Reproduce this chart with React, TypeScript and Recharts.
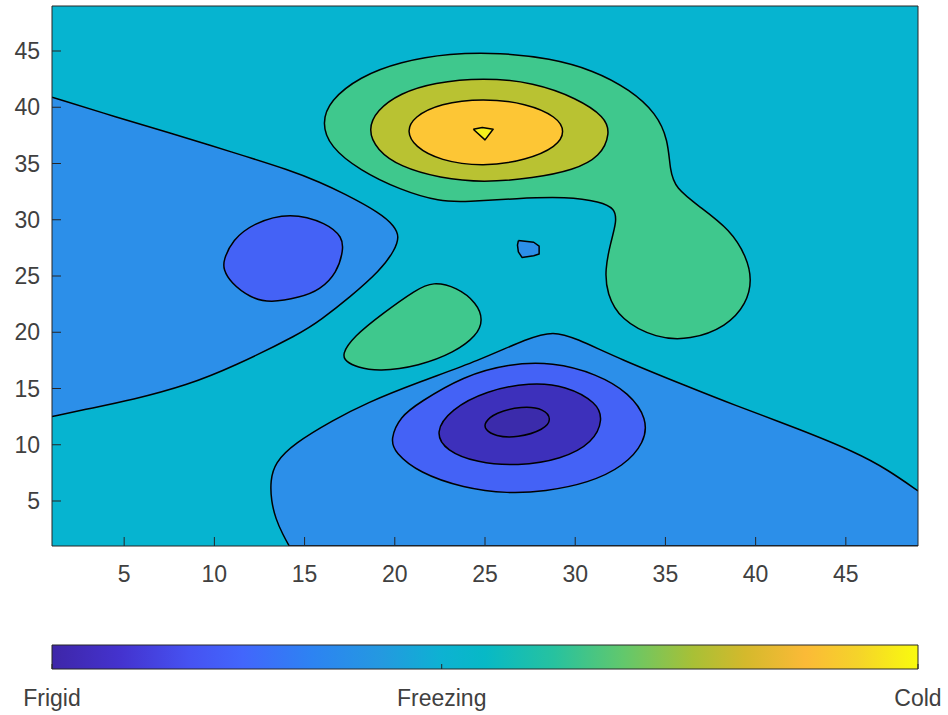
import { ScatterChart, Scatter, XAxis, YAxis, BarChart, Bar } from 'recharts'

type Pt = [number, number]

const xTicks = [5, 10, 15, 20, 25, 30, 35, 40, 45]
const yTicks = [5, 10, 15, 20, 25, 30, 35, 40, 45]

// contour outlines in data units
const background: Pt[] = [[1, 1], [49, 1], [49, 49], [1, 49], [1, 1]]

const leftWedge: Pt[] = [
  [1, 40.9], [4.6, 39.1], [7.4, 37.8], [11, 36], [14.2, 34.4], [15.9, 33.3], [17.1, 32.4],
  [19.2, 30.6], [20.0, 29.4], [20.25, 28.5], [20.0, 27.3], [19.2, 25.5], [17.5, 23.1],
  [15.9, 21.1], [14.8, 19.9], [11, 16.9], [8.5, 15.3], [5.5, 14], [2.7, 13.1], [1, 12.5],
]

const bottomShelf: Pt[] = [
  [49, 5.9], [47.3, 7.8], [45.6, 9.3], [42.4, 11.4], [38.7, 13.6], [36.2, 15.2], [32.5, 17.6],
  [30.0, 19.5], [28.8, 20.1], [27.4, 19.5], [24.7, 17.5], [21.2, 15.5], [18.4, 13.7], [16.6, 12.2],
  [14.4, 10.1], [13.35, 8.4], [13.1, 6.8], [13.15, 5.0], [13.4, 3.4], [13.8, 2.0],
  [14.15, 1], [14.15, 1], [14.15, 1], [49, 1],
]

const bottomRing: Pt[] = [
  [19.75, 10.5], [20.3, 12.5], [21.35, 13.75], [23.8, 16.1], [26.3, 17.2], [28.75, 17.35],
  [31.2, 16.3], [33.0, 14.6], [34.0, 12.3], [33.85, 10.2], [32.7, 8.1], [30.75, 6.6],
  [28.3, 5.85], [26.3, 5.65], [23.8, 6.15], [21.35, 7.5], [20.0, 9.3],
]

const innerRing: Pt[] = [
  [22.2, 11.1], [23.1, 13.15], [25.05, 14.8], [27.5, 15.55], [29.5, 15.25], [31.2, 13.75],
  [31.55, 12.25], [31.0, 10.2], [29.25, 8.7], [26.8, 8.1], [24.55, 8.4], [22.85, 9.45],
]

const coldCore: Pt[] = [
  [24.95, 11.95], [25.55, 12.85], [27.05, 13.45], [28.3, 13.2], [28.7, 12.25],
  [28.3, 11.35], [26.8, 10.6], [25.55, 10.75], [25.0, 11.35],
]

const leftOval: Pt[] = [
  [10.5, 26.4], [11.0, 28.2], [12.15, 29.7], [14.2, 30.7], [16.25, 29.7], [17.1, 28.45],
  [17.15, 27.3], [16.8, 25.3], [15.85, 23.75], [14.75, 23.1], [13.1, 22.6], [12.0, 23.05],
  [10.9, 24.4], [10.5, 25.6],
]

const midBlob: Pt[] = [
  [17.05, 18.0], [17.7, 19.6], [19.35, 21.7], [21.2, 23.8], [22.1, 24.5], [23.45, 24.0],
  [24.55, 22.6], [24.9, 21.1], [24.55, 19.7], [23.3, 18.2], [21.35, 17.0], [19.1, 16.5],
  [17.9, 16.9], [17.3, 17.4],
]

const topBlob: Pt[] = [
  [15.95, 38.6], [16.4, 40.6], [18.05, 42.7], [20.3, 44.05], [23.05, 44.8], [25.85, 44.85],
  [28.6, 44.35], [31.0, 43.3], [33.05, 41.55], [34.5, 39.45], [35.15, 37.1], [35.25, 34.4],
  [35.55, 32.8], [36.9, 31.15], [38.6, 29.1], [39.5, 26.7], [39.8, 24.65], [39.5, 22.55],
  [38.4, 20.5], [36.35, 19.3], [34.5, 19.45], [32.5, 21.1], [31.75, 23.45], [31.65, 25.55],
  [31.95, 27.9], [32.3, 29.85], [32.2, 31.0], [31.4, 31.6], [29.55, 32.05], [26.75, 31.9],
  [24.0, 31.6], [22.5, 31.6], [20.3, 32.65], [18.05, 34.4], [16.4, 36.5],
]

const olive: Pt[] = [
  [18.5, 38.0], [19.0, 39.75], [20.3, 41.25], [22.15, 42.2], [24.9, 42.65], [27.7, 42.2],
  [30.1, 40.8], [31.65, 39.15], [31.95, 37.7], [31.4, 35.6], [29.9, 34.4], [27.7, 33.7],
  [24.9, 33.3], [22.5, 33.7], [20.3, 34.7], [19.0, 36.2],
]

const warm: Pt[] = [
  [20.65, 37.85], [21.05, 39.15], [22.5, 40.35], [24.9, 40.8], [27.3, 40.35], [29.0, 39.15],
  [29.45, 37.85], [29.0, 36.5], [27.3, 35.3], [24.9, 34.7], [22.5, 35.25], [21.1, 36.5],
]

const peak: Pt[] = [[24.35, 38.05], [24.85, 38.2], [25.45, 38.05], [25.0, 37.1], [24.35, 38.05]]

const dimple: Pt[] = [
  [26.85, 28.15], [27.7, 28.0], [28.0, 27.65], [28.0, 26.95], [27.7, 26.8], [27.05, 26.65],
  [26.85, 27.15], [26.8, 27.75], [26.85, 28.15],
]

const cbTicks = [0, 0.45, 1]
const cbLabels = ['Frigid', 'Freezing', 'Cold']
const cbData = [{ name: 'scale', value: 1 }]

const parula = [
  ['0', '#3e26a8'], ['0.08', '#4433cf'], ['0.16', '#4653f2'], ['0.22', '#4266fc'],
  ['0.30', '#2d83f2'], ['0.38', '#2499e0'], ['0.45', '#0db2d2'], ['0.50', '#07b9c6'],
  ['0.58', '#27c29f'], ['0.66', '#62c86c'], ['0.74', '#a8c036'], ['0.80', '#d4b92c'],
  ['0.87', '#fbba37'], ['0.93', '#f5d32a'], ['1', '#f9fb0e'],
]

const layers = [
  { key: 'bg', pts: background, fill: '#06b4d0', curve: 'linear', edge: false },
  { key: 'wedge', pts: leftWedge, fill: '#2c8fe9', curve: 'basis', edge: true },
  { key: 'shelf', pts: bottomShelf, fill: '#2c8fe9', curve: 'basis', edge: true },
  { key: 'ring', pts: bottomRing, fill: '#4462f6', curve: 'basisClosed', edge: true },
  { key: 'inner', pts: innerRing, fill: '#3d30bb', curve: 'basisClosed', edge: true },
  { key: 'core', pts: coldCore, fill: '#3b2bab', curve: 'basisClosed', edge: true },
  { key: 'oval', pts: leftOval, fill: '#4462f6', curve: 'basisClosed', edge: true },
  { key: 'mid', pts: midBlob, fill: '#3fc88d', curve: 'basisClosed', edge: true },
  { key: 'top', pts: topBlob, fill: '#3fc88d', curve: 'basisClosed', edge: true },
  { key: 'olive', pts: olive, fill: '#b9c232', curve: 'basisClosed', edge: true },
  { key: 'warm', pts: warm, fill: '#fdc635', curve: 'basisClosed', edge: true },
  { key: 'peak', pts: peak, fill: '#f4f01c', curve: 'linear', edge: true },
  { key: 'dimple', pts: dimple, fill: '#2c8fe9', curve: 'linear', edge: true },
]

const font = '"Liberation Sans", Arial, sans-serif'
const tickStyle = { fill: '#404040', fontSize: 23, fontFamily: font }
const axisColor = '#262626'
const noLabel = () => <g />

export default function App() {
  return (
    <div style={{ position: 'absolute', left: 0, top: 0, width: 948, height: 715, background: '#fff', fontFamily: font }}>
      {/* filled contours */}
      <div style={{ position: 'absolute', left: 0, top: 0 }}>
        <ScatterChart width={948} height={600} margin={{ top: 6, right: 30, bottom: 54, left: 52 }}>
          <XAxis type="number" dataKey="x" domain={[1, 49]} allowDataOverflow hide />
          <YAxis type="number" dataKey="y" domain={[1, 49]} allowDataOverflow hide />
          {layers.map(l => (
            <Scatter
              key={l.key}
              data={l.pts.map(([x, y]) => ({ x, y }))}
              fill={l.fill}
              isAnimationActive={false}
              legendType="none"
              shape={() => <g />}
              lineType="joint"
              lineJointType={l.curve as any}
              line={{ fill: l.fill, stroke: l.edge ? '#000' : 'none', strokeWidth: 1.5, strokeLinejoin: 'round' } as any}
            />
          ))}
        </ScatterChart>
      </div>
      {/* box, inner ticks and tick labels drawn on top */}
      <div style={{ position: 'absolute', left: 0, top: 0, zIndex: 2, pointerEvents: 'none' }}>
        <ScatterChart width={948} height={600} margin={{ top: 5, right: 29, bottom: 0, left: 0 }}>
          <Scatter data={background.map(([x, y]) => ({ x, y }))} isAnimationActive={false}
            legendType="none" shape={() => <g />} />
          <XAxis type="number" dataKey="x" domain={[1, 49]} ticks={xTicks} interval={0}
            height={54} tickSize={-9} tickMargin={29} stroke={axisColor} tick={tickStyle} />
          <XAxis xAxisId="top" orientation="top" type="number" domain={[1, 49]} ticks={xTicks} interval={0}
            height={1} tickSize={-9} tick={noLabel} stroke={axisColor} />
          <YAxis type="number" dataKey="y" domain={[1, 49]} ticks={yTicks} interval={0}
            width={52} tickSize={-9} tickMargin={21} stroke={axisColor} tick={tickStyle} />
          <YAxis yAxisId="right" orientation="right" type="number" domain={[1, 49]} ticks={yTicks} interval={0}
            width={1} tickSize={-9} tick={noLabel} stroke={axisColor} />
        </ScatterChart>
      </div>
      <div style={{ position: 'absolute', left: 0, top: 620 }}>
        <BarChart width={948} height={95} layout="vertical" data={cbData} barCategoryGap={0}
          margin={{ top: 25, right: 30, left: 52, bottom: 0 }}>
          <defs>
            <linearGradient id="parula" x1="0" y1="0" x2="1" y2="0">
              {parula.map(([o, c]) => <stop key={o} offset={o} stopColor={c} />)}
            </linearGradient>
          </defs>
          <YAxis type="category" dataKey="name" hide />
          <Bar dataKey="value" fill="url(#parula)" stroke={axisColor} strokeWidth={1} isAnimationActive={false} />
          <XAxis type="number" domain={[0, 1]} ticks={cbTicks} interval={0} height={46}
            tickFormatter={(_v: number, i: number) => cbLabels[i]} tickSize={-5} tickMargin={26}
            axisLine={false} stroke={axisColor} tick={tickStyle} />
        </BarChart>
      </div>
    </div>
  )
}
